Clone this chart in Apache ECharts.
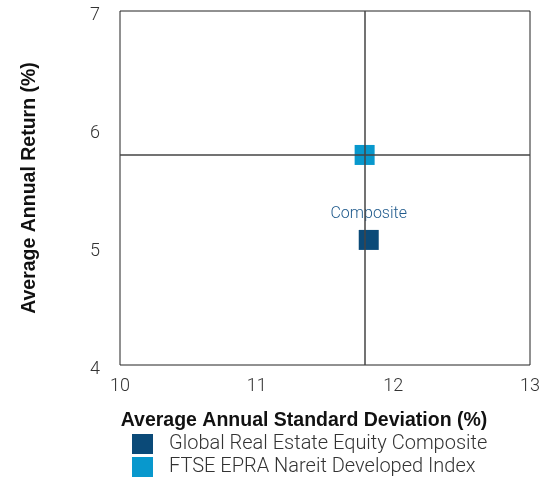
<!DOCTYPE html>
<html>
<head>
<meta charset="utf-8">
<script src="https://cdn.jsdelivr.net/npm/echarts@6/dist/echarts.min.js"></script>
<style>
  html, body { margin: 0; padding: 0; background: #fff; }
  #chart { width: 544px; height: 487px; }
</style>
</head>
<body>
<div id="chart"></div>
<script>
// values
const seriesNames = ['Global Real Estate Equity Composite', 'FTSE EPRA Nareit Developed Index'];
const compositePoint = [11.82, 5.06];
const indexPoint = [11.79, 5.78];
const xTicks = [10, 13, 1];
const yTicks = [4, 7, 1];

const chart = echarts.init(document.getElementById('chart'));

const tickFont = { fontFamily: 'Roboto', fontWeight: 300, fontSize: 18, color: '#333' };
const nameFont = { fontFamily: 'Liberation Sans', fontWeight: 'bold', fontSize: 19.5, color: '#111' };

chart.setOption({
    animation: false,
    grid: {
        left: 120, right: 14, top: 11, bottom: 122,
        show: true, borderColor: '#222', borderWidth: 1
    },
    xAxis: {
        type: 'value',
        min: xTicks[0], max: xTicks[1], interval: xTicks[2],
        name: 'Average Annual Standard Deviation (%)',
        nameLocation: 'middle',
        nameGap: 46,
        nameTextStyle: Object.assign({ padding: [0, 42, 0, 0] }, nameFont),
        axisLine: { show: false },
        axisTick: { show: false },
        splitLine: { show: false },
        axisLabel: Object.assign({ margin: 12 }, tickFont)
    },
    yAxis: {
        type: 'value',
        min: yTicks[0], max: yTicks[1], interval: yTicks[2],
        name: 'Average Annual Return (%)',
        nameLocation: 'middle',
        nameGap: 80,
        nameTextStyle: nameFont,
        axisLine: { show: false },
        axisTick: { show: false },
        splitLine: { show: false },
        axisLabel: {
            margin: 20,
            formatter: '{v|{value}}',
            rich: { v: Object.assign({ padding: [9, 0, 0, 0] }, tickFont) }
        }
    },
    legend: {
        orient: 'vertical',
        left: 132,
        top: 434,
        padding: 0,
        itemWidth: 21,
        itemHeight: 20,
        itemGap: 3,
        icon: 'rect',
        textStyle: { fontFamily: 'Roboto', fontWeight: 300, fontSize: 20, color: '#333', padding: [3, 0, 0, 11] },
        data: seriesNames
    },
    series: [
        {
            name: seriesNames[1],
            type: 'scatter',
            symbol: 'rect',
            symbolSize: 20,
            itemStyle: { color: '#0898cd', opacity: 1 },
            data: [indexPoint],
            z: 3,
            markLine: {
                silent: true,
                symbol: 'none',
                label: { show: false },
                lineStyle: { color: '#444', type: 'solid', width: 1.5 },
                data: [
                    { xAxis: indexPoint[0] },
                    { yAxis: indexPoint[1] }
                ]
            }
        },
        {
            name: seriesNames[0],
            type: 'scatter',
            symbol: 'rect',
            symbolSize: 20,
            itemStyle: { color: '#0b4a78', opacity: 1 },
            data: [compositePoint],
            z: 4,
            label: {
                show: true,
                position: 'top',
                distance: 8,
                formatter: 'Composite',
                fontFamily: 'Roboto',
                fontWeight: 300,
                fontSize: 16,
                color: '#1f5a8c'
            }
        }
    ]
});
</script>
</body>
</html>
